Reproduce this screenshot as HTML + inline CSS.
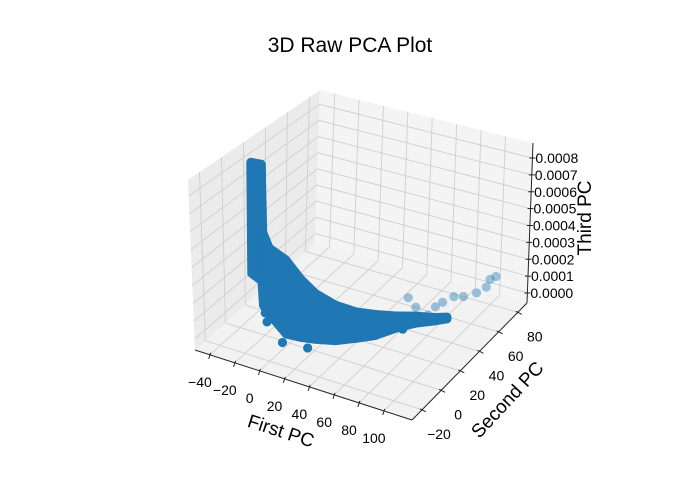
<!DOCTYPE html>
<html><head><meta charset="utf-8"><style>
html,body{margin:0;padding:0;background:#fff;}
svg{display:block;font-family:"Liberation Sans","DejaVu Sans",sans-serif;}
</style></head><body>
<svg id="chart" width="700" height="500" viewBox="0 0 700 500">
<text x="350" y="52" text-anchor="middle" font-size="21" fill="#000">3D Raw PCA Plot</text>
<g id="panes"></g>
<g id="grid"></g>
<g id="axes"></g>
<g id="data"></g>
<text transform="translate(279,437) rotate(18)" text-anchor="middle" font-size="19">First PC</text>
<text transform="translate(512,404) rotate(-47)" text-anchor="middle" font-size="19">Second PC</text>
<text transform="translate(591,218) rotate(-90)" text-anchor="middle" font-size="19">Third PC</text>
</svg>
<script>
// ---- data ----
const xTicks = [-40,-20,0,20,40,60,80,100];
const yTicks = [-20,0,20,40,60,80];
const zTicks = [0,0.0001,0.0002,0.0003,0.0004,0.0005,0.0006,0.0007,0.0008];
const zTickLabels = ["0.0000","0.0001","0.0002","0.0003","0.0004","0.0005","0.0006","0.0007","0.0008"];
// dense body of the point cloud, as columns (First PC, Second PC, Third PC low/high)
const bodyX    = [-51, -42, -34, -24, -1, 10, 20, 33, 44, 54, 62, 71, 81, 88];
const bodyY    = [25.4, 24.5, 16, 10, -2, -1, 1, 5, 12, 19, 30, 39, 45, 50];
const bodyZLow = [0.00010, 0.00008, 0, 0, 0, 0, 0, 0, 0, 0, 0, 0, 0, 0];
const bodyZHigh= [0.00075, 0.00076, 0.00042, 0.00038, 0.00042, 0.00033, 0.00026, 0.00020, 0.00015, 0.00012, 0.00007, 0.00004, 0.00002, 0.00001];
// individual near-side outliers
const outX = [2.3, 21, -27.7, -20.6, 12, 33, 53, 67];
const outY = [-10, -8, 10, 3, 0, 8, 20, 31];
const outZ = [0, 0, 0, 0, 0, 0, 0, 0];
// far (depth-shaded) tail points
const farX = [50, 61, 78, 84, 90, 92.4, 93, 97, 74.6, 73.6, 73];
const farY = [58, 52, 69.7, 72, 78, 85, 88, 89, 62.4, 48.5, 57];
const farZ = [0, 0, 0, 0, 0, 0, 0.00003, 0.00005, 0, 0, 0];

// ---- axis functions ----
const XLO=-52, XHI=122.6, YLO=-30.4, YHI=89.6, ZLO=-0.0000593, ZHI=0.000889;
const A=[195,350], B=[412,420], C=[527,303], D=[315,243];
const A2=[188,180], B2=[415,245], C2=[533,143], D2=[320,90];
function bil(p00,p10,p11,p01,u,v){
  return [0,1].map(i=>(1-u)*(1-v)*p00[i]+u*(1-v)*p10[i]+u*v*p11[i]+(1-u)*v*p01[i]);
}
function P(x,y,z){
  const u=(x-XLO)/(XHI-XLO), v=(y-YLO)/(YHI-YLO), w=(z-ZLO)/(ZHI-ZLO);
  const f=bil(A,B,C,D,u,v), t=bil(A2,B2,C2,D2,u,v);
  return [f[0]+(t[0]-f[0])*w, f[1]+(t[1]-f[1])*w];
}
const NS='http://www.w3.org/2000/svg';
function mk(tag,attrs,parent){const e=document.createElementNS(NS,tag);for(const k in attrs)e.setAttribute(k,attrs[k]);parent.appendChild(e);return e;}
const pts=a=>a.map(p=>p[0].toFixed(1)+','+p[1].toFixed(1)).join(' ');
const gP=document.getElementById('panes'), gG=document.getElementById('grid'), gA=document.getElementById('axes'), gD=document.getElementById('data');

// panes
let e;
e=mk('polygon',{points:pts([P(XLO,YLO,ZLO),P(XLO,YHI,ZLO),P(XLO,YHI,ZHI),P(XLO,YLO,ZHI)]),fill:'#ebebeb'},gP);


e=mk('polygon',{points:pts([P(XLO,YHI,ZLO),P(XHI,YHI,ZLO),P(XHI,YHI,ZHI),P(XLO,YHI,ZHI)]),fill:'#f4f4f4'},gP);


e=mk('polygon',{points:pts([P(XLO,YLO,ZLO),P(XHI,YLO,ZLO),P(XHI,YHI,ZLO),P(XLO,YHI,ZLO)]),fill:'#f2f2f2'},gP);



// gridlines
function line(p,q,attrs,parent){return mk('line',Object.assign({x1:p[0],y1:p[1],x2:q[0],y2:q[1]},attrs),parent);}
const ga={stroke:'#cfcfcf','stroke-width':0.9};
xTicks.forEach(x=>{
  e=line(P(x,YLO,ZLO),P(x,YHI,ZLO),ga,gG);
  
  
  e=line(P(x,YHI,ZLO),P(x,YHI,ZHI),ga,gG);
  
  
});
yTicks.forEach(y=>{
  e=line(P(XLO,y,ZLO),P(XHI,y,ZLO),ga,gG);
  
  
  e=line(P(XLO,y,ZLO),P(XLO,y,ZHI),ga,gG);
  
  
});
zTicks.forEach(z=>{
  e=line(P(XLO,YLO,z),P(XLO,YHI,z),ga,gG);
  
  
  e=line(P(XLO,YHI,z),P(XHI,YHI,z),ga,gG);
  
  
});

// axis lines
const al={stroke:'#222','stroke-width':1};
e=line(P(XLO,YLO,ZLO),P(XHI,YLO,ZLO),al,gA);


e=line(P(XHI,YLO,ZLO),P(XHI,YHI,ZLO),al,gA);


e=line(P(XHI,YHI,ZLO),P(XHI,YHI,ZHI),al,gA);



xTicks.forEach(x=>{
  const p=P(x,YLO,ZLO);
  e=line([p[0]+0.8,p[1]-2],[p[0]-1.2,p[1]+4],al,gA);
  
  
  e=mk('text',{x:p[0]-10,y:p[1]+32,'text-anchor':'middle','font-size':14},gA);
  e.textContent=String(x).replace('-','\u2212');
  
  
});
yTicks.forEach(y=>{
  const p=P(XHI,y,ZLO);
  e=line([p[0]-2,p[1]-1],[p[0]+4,p[1]+2],al,gA);
  
  
  e=mk('text',{x:p[0]+17,y:p[1]+29,'text-anchor':'middle','font-size':14},gA);
  e.textContent=String(y).replace('-','\u2212');
  
  
});
zTicks.forEach((z,i)=>{
  const p=P(XHI,YHI,z);
  e=line([p[0]-3,p[1]],[p[0]+3,p[1]],al,gA);
  
  
  e=mk('text',{x:p[0]+3,y:p[1]+5,'font-size':14},gA);
  e.textContent=zTickLabels[i];
  
  
});

// ---- data marks ----
const COL='#1f77b4';
function hull(ps){
  ps=ps.slice().sort((a,b)=>a[0]-b[0]||a[1]-b[1]);
  const cr=(o,a,b)=>(a[0]-o[0])*(b[1]-o[1])-(a[1]-o[1])*(b[0]-o[0]);
  const lo=[],up=[];
  for(const p of ps){while(lo.length>=2&&cr(lo[lo.length-2],lo[lo.length-1],p)<=0)lo.pop();lo.push(p);}
  for(const p of ps.slice().reverse()){while(up.length>=2&&cr(up[up.length-2],up[up.length-1],p)<=0)up.pop();up.push(p);}
  return lo.slice(0,-1).concat(up.slice(0,-1));
}
farX.forEach((x,i)=>{
  const p=P(x,farY[i],farZ[i]);
  e=mk('circle',{cx:p[0],cy:p[1],r:4.6,fill:COL,'fill-opacity':0.42},gD);
  
  
});
for(let i=0;i<bodyX.length-1;i++){
  const c=[P(bodyX[i],bodyY[i],bodyZLow[i]),P(bodyX[i],bodyY[i],bodyZHigh[i]),
           P(bodyX[i+1],bodyY[i+1],bodyZLow[i+1]),P(bodyX[i+1],bodyY[i+1],bodyZHigh[i+1])];
  e=mk('polygon',{points:pts(hull(c)),fill:COL,stroke:COL,'stroke-width':9,'stroke-linejoin':'round'},gD);
  
  
}
outX.forEach((x,i)=>{
  const p=P(x,outY[i],outZ[i]);
  e=mk('circle',{cx:p[0],cy:p[1],r:4.6,fill:COL},gD);
  
  
});
</script>
</body></html>
